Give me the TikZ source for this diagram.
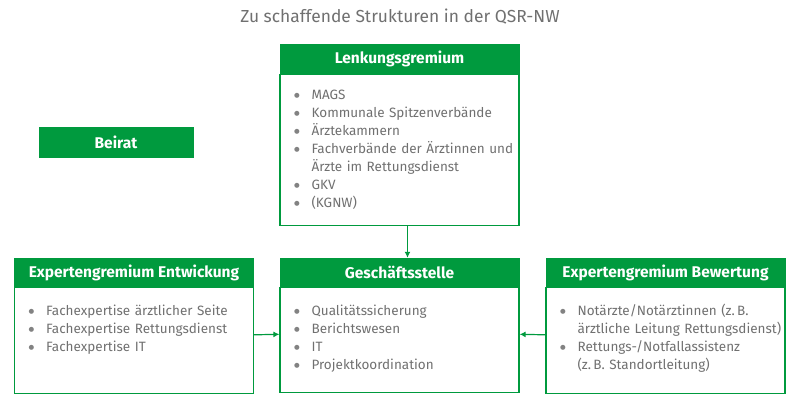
\documentclass[tikz,border=0pt]{standalone}
\usepackage{fontspec}
\setmainfont{Fira Sans}
\newfontfamily\punktfont{DejaVu Sans}
\usetikzlibrary{positioning,arrows.meta}
\definecolor{qsrgruen}{RGB}{0,154,62}
\definecolor{qsrgrau}{RGB}{112,112,112}
\definecolor{punktgrau}{RGB}{130,130,130}
\newcommand{\pkt}[1]{\hangindent=18pt\hangafter=1\noindent\makebox[18pt][l]{\hspace{0.5pt}\raisebox{1.6pt}{\textcolor{punktgrau}{\punktfont\fontsize{6.5}{6.5}\selectfont ●}}}\strut#1\par}

\begin{document}
\begin{tikzpicture}[x=1pt,y=-1pt,
  >={Latex[length=6pt,width=6pt]},
  kopf/.style={fill=qsrgruen,draw=qsrgruen,text=white,font=\fontsize{15.5}{17}\selectfont\bfseries,minimum width=239pt,minimum height=29pt,inner sep=0pt},
  rumpf/.style={draw=qsrgruen,line width=1.2pt,minimum width=239pt,inner sep=0pt},
  liste/.style={text=qsrgrau,font=\fontsize{13.5}{18}\selectfont,text width=222pt,align=left,inner sep=0pt},
  pfeil/.style={->,draw=qsrgruen,line width=1.2pt}
  ]
  \useasboundingbox (0,0) rectangle (800,402);

  \node[text=qsrgrau,font=\fontsize{17.4}{20}\selectfont] (titel) at (400,17) {Zu schaffende Strukturen in der QSR-NW};

  % Lenkungsgremium
  \node[kopf] (lenk) at (399.5,59) {Lenkungsgremium};
  \node[rumpf,minimum height=151pt,below=0pt of lenk] (lenkrumpf) {};
  \node[liste,below right=12.5pt and 14pt of lenkrumpf.north west] (lenkliste) {%
    \pkt{MAGS}
    \pkt{Kommunale Spitzenverbände}
    \pkt{Ärztekammern}
    \pkt{Fachverbände der Ärztinnen und\newline Ärzte im Rettungsdienst}
    \pkt{GKV}
    \pkt{(KGNW)}};

  % Beirat
  \node[kopf,minimum width=154pt,minimum height=30pt] (beirat) at (116,142) {Beirat};

  % Geschaeftsstelle
  \node[kopf] (gs) at (399.5,272.5) {Geschäftsstelle};
  \node[rumpf,minimum height=105pt,below=0pt of gs] (gsrumpf) {};
  \node[liste,below right=15pt and 14pt of gsrumpf.north west] (gsliste) {%
    \pkt{Qualitätssicherung}
    \pkt{Berichtswesen}
    \pkt{IT}
    \pkt{Projektkoordination}};

  % Expertengremien
  \node[kopf] (entw) at (134,272.5) {Expertengremium Entwickung};
  \node[rumpf,minimum height=106pt,below=0pt of entw] (entwrumpf) {};
  \node[liste,below right=15pt and 14pt of entwrumpf.north west] (entwliste) {%
    \pkt{Fachexpertise ärztlicher Seite}
    \pkt{Fachexpertise Rettungsdienst}
    \pkt{Fachexpertise IT}};

  \node[kopf] (bew) at (665.5,272.5) {Expertengremium Bewertung};
  \node[rumpf,minimum height=106pt,below=0pt of bew] (bewrumpf) {};
  \node[liste,below right=15.5pt and 14pt of bewrumpf.north west] (bewliste) {%
    \pkt{Notärzte/Notärztinnen (z.\,B.\newline ärztliche Leitung Rettungsdienst)}
    \pkt{Rettungs-/Notfallassistenz\newline (z.\,B. Standortleitung)}};

  \draw[pfeil] ([xshift=8pt]lenkrumpf.south) -- ([xshift=8pt]gs.north);
  \draw[pfeil] ([yshift=6pt]entwrumpf.east) -- ([yshift=6pt]gsrumpf.west);
  \draw[pfeil] ([yshift=6pt]bewrumpf.west) -- ([yshift=6pt]gsrumpf.east);
\end{tikzpicture}
\end{document}
